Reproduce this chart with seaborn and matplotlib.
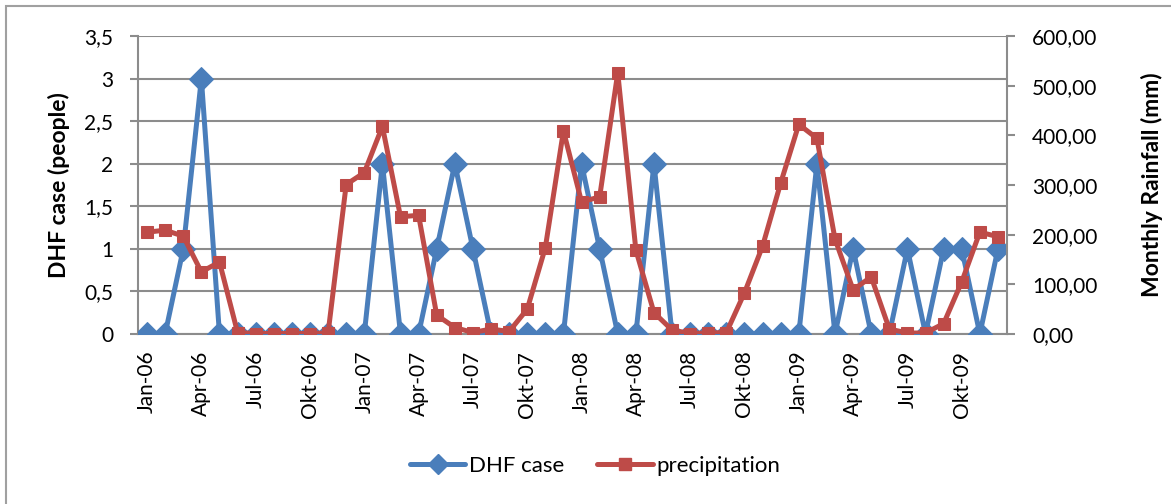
import matplotlib
matplotlib.use("Agg")
import matplotlib.pyplot as plt
import seaborn as sns
import pandas as pd
import numpy as np
from matplotlib.patches import Rectangle
from matplotlib.lines import Line2D

months = ["Jan", "Feb", "Mar", "Apr", "Mei", "Jun", "Jul", "Agu", "Sep", "Okt", "Nov", "Des"]
years = ["06", "07", "08", "09"]
categories = [f"{m}-{y}" for y in years for m in months]

dhf_case = [0, 0, 1, 3, 0, 0, 0, 0, 0, 0, 0, 0,
            0, 2, 0, 0, 1, 2, 1, 0, 0, 0, 0, 0,
            2, 1, 0, 0, 2, 0, 0, 0, 0, 0, 0, 0,
            0, 2, 0, 1, 0, 0, 1, 0, 1, 1, 0, 1]

precipitation = [205, 209, 197, 125, 145, 3, 1, 1, 1, 1, 2, 301,
                 325, 418, 236, 239, 38, 13, 3, 10, 5, 50, 174, 409,
                 266, 276, 526, 169, 43, 8, 1, 2, 3, 83, 177, 304,
                 422, 394, 191, 89, 115, 10, 2, 2, 21, 105, 205, 196]

tick_labels = ["Jan-06", "Apr-06", "Jul-06", "Okt-06", "Jan-07", "Apr-07", "Jul-07", "Okt-07",
               "Jan-08", "Apr-08", "Jul-08", "Okt-08", "Jan-09", "Apr-09", "Jul-09", "Okt-09"]

df = pd.DataFrame({"idx": np.arange(len(categories)), "month": categories,
                   "dhf": dhf_case, "rain": precipitation})

sns.set_theme(style="white")
plt.rcParams["font.family"] = ["Lato", "DejaVu Sans"]
plt.rcParams["text.color"] = "black"
plt.rcParams["xtick.color"] = "black"
plt.rcParams["ytick.color"] = "black"
plt.rcParams["axes.labelcolor"] = "black"

blue = "#4A7EBB"
red = "#BE4B48"
grid = "#8C8C8C"

fig = plt.figure(figsize=(11.71, 5.04), dpi=100)
W, H = 1171, 504
x0, x1, y0, y1 = 138, 1007, 334, 36
ax = fig.add_axes([x0 / W, 1 - y0 / H, (x1 - x0) / W, (y0 - y1) / H])
ax2 = ax.twinx()

# outer chart border
fig.patches.append(Rectangle((6 / W, -0.05), 1.2, (1 - 6 / H) + 0.05, transform=fig.transFigure,
                             fill=False, edgecolor="#A0A0A0", linewidth=1.5, zorder=0))

sns.lineplot(data=df, x="idx", y="dhf", ax=ax, color=blue, marker="D", markersize=12,
             linewidth=3.6, markeredgecolor=blue, zorder=3, legend=False)
sns.lineplot(data=df, x="idx", y="rain", ax=ax2, color=red, marker="s", markersize=9,
             linewidth=3.6, markeredgecolor=red, zorder=3, legend=False)

ax.set_zorder(1)
ax2.set_zorder(2)
ax2.patch.set_visible(False)

ax.set_xlim(-0.5, len(categories) - 0.5)
ax.set_ylim(0, 3.5)
ax2.set_ylim(0, 600)

fs = 15
# y ticks
yt = np.arange(0, 3.51, 0.5)
ax.set_yticks(yt)
ax.set_yticklabels([("%g" % v).replace(".", ",") for v in yt], fontsize=fs)
ax.yaxis.grid(True, color=grid, linewidth=1.5)
ax.set_axisbelow(True)
yt2 = np.arange(0, 601, 100)
ax2.set_yticks(yt2)
ax2.set_yticklabels([f"{v:.2f}".replace(".", ",") for v in yt2], fontsize=fs)

# x ticks: labels at category centres every 3 months, tick marks at boundaries
ax.set_xticks(np.arange(0, len(categories), 3))
ax.set_xticklabels(tick_labels, rotation=90, fontsize=fs)
ax.set_xticks(np.arange(-0.5, len(categories), 3), minor=True)
ax.tick_params(axis="x", which="major", length=0, pad=12)
ax.tick_params(axis="x", which="minor", length=6, color=grid, width=1.5, direction="out")
ax.tick_params(axis="y", length=6, color=grid, width=1.5, direction="out", pad=12)
ax2.tick_params(axis="y", length=6, color=grid, width=1.5, direction="out", pad=12)

ax.set_xlabel("")
ax.set_ylabel("DHF case (people)", fontsize=16.5, fontweight="bold")
ax2.set_ylabel("Monthly Rainfall (mm)", fontsize=16.5, fontweight="bold")
ax.yaxis.set_label_coords((70 - x0) / (x1 - x0), 0.5)
ax2.yaxis.set_label_coords((1141 - x0) / (x1 - x0), 0.5)

for a in (ax, ax2):
    a.spines["top"].set_visible(False)
ax.spines["right"].set_visible(False)
ax2.spines["left"].set_visible(False)
ax2.spines["bottom"].set_visible(False)
ax.spines["left"].set_color(grid)
ax.spines["left"].set_linewidth(1.5)
ax.spines["bottom"].set_color(grid)
ax.spines["bottom"].set_linewidth(1.5)
ax2.spines["right"].set_color(grid)
ax2.spines["right"].set_linewidth(1.5)

handles = [Line2D([], [], color=blue, marker="D", markersize=10, linewidth=3.6),
           Line2D([], [], color=red, marker="s", markersize=8, linewidth=3.6)]
fig.legend(handles, ["DHF case", "precipitation"], loc="center", bbox_to_anchor=(595 / W, 1 - 466 / H),
           ncol=2, frameon=False, fontsize=16, handlelength=2.5, columnspacing=1.5, handletextpad=0.15)

fig.savefig("out.png", dpi=100)
